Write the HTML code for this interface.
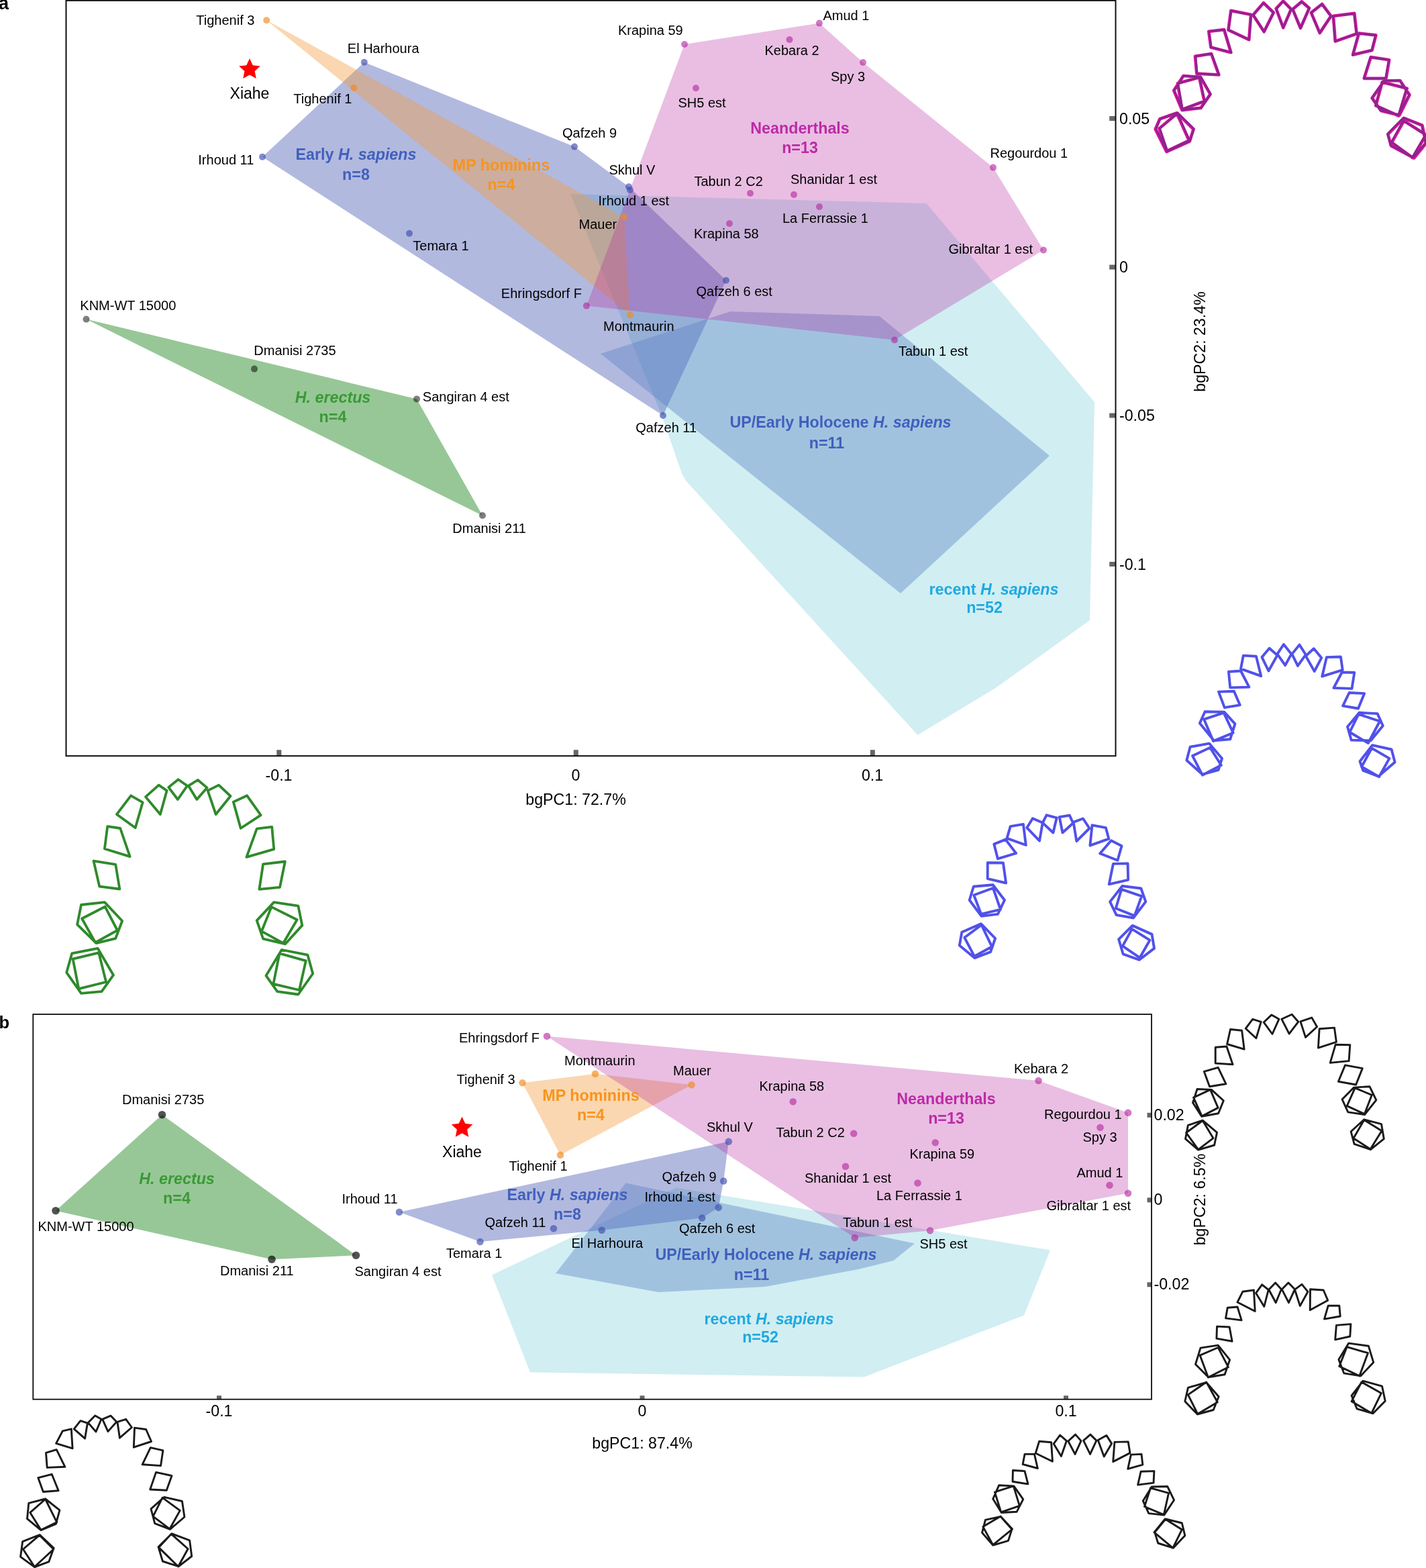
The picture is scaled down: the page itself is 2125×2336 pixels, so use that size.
<!DOCTYPE html>
<html lang="en">
<head>
<meta charset="utf-8">
<title>bgPCA of dental arcade shape</title>
<style>
html,body{margin:0;padding:0;background:#fff;}
body{width:2125px;height:2336px;overflow:hidden;}
svg{display:block;font-family:"Liberation Sans", sans-serif;}
</style>
</head>
<body>
<svg width="2125" height="2336" viewBox="0 0 2125 2336">
<rect width="2125" height="2336" fill="#fff"/>
<g id="panel-a">
<g id="hulls-a">
<polygon points="850,289 1380.5,303 1631,599 1624,924 1485,1024 1367.5,1095 1022.4,716.6 1016.3,706 986.5,620" fill="#59c3d1" fill-opacity="0.28"/>
<polygon points="391,233.8 542.8,92.8 856,218.6 937,278.2 1082,417.7 988,619" fill="#3f4fb0" fill-opacity="0.4"/>
<polygon points="397.2,30.2 930,323.3 939,469.4" fill="#f29a3c" fill-opacity="0.4"/>
<polygon points="895,527 1088.5,464 1310.5,471 1564,679 1342,884" fill="#5a80c3" fill-opacity="0.4"/>
<polygon points="874,455.6 1020,66 1221,34.6 1286,93 1480,249.6 1555,372.6 1333,506.5" fill="#b5279f" fill-opacity="0.3"/>
<polygon points="128.5,475.6 621,594.4 719,768" fill="#2f8f2f" fill-opacity="0.5"/>
</g>
<g id="points-a">
<circle cx="397.2" cy="30.2" r="5" fill="#f08c1e" fill-opacity="0.66"/>
<circle cx="527.2" cy="130.9" r="5" fill="#f08c1e" fill-opacity="0.66"/>
<circle cx="930" cy="323.3" r="5" fill="#f08c1e" fill-opacity="0.66"/>
<circle cx="939" cy="469.4" r="5" fill="#f08c1e" fill-opacity="0.66"/>
<circle cx="542.8" cy="92.8" r="5" fill="#3f4fb0" fill-opacity="0.66"/>
<circle cx="391" cy="233.8" r="5" fill="#3f4fb0" fill-opacity="0.66"/>
<circle cx="610" cy="347.8" r="5" fill="#3f4fb0" fill-opacity="0.66"/>
<circle cx="856" cy="218.6" r="5" fill="#3f4fb0" fill-opacity="0.66"/>
<circle cx="937" cy="278.2" r="5" fill="#3f4fb0" fill-opacity="0.66"/>
<circle cx="939" cy="283" r="5" fill="#3f4fb0" fill-opacity="0.66"/>
<circle cx="1082" cy="417.7" r="5" fill="#3f4fb0" fill-opacity="0.66"/>
<circle cx="988" cy="619" r="5" fill="#3f4fb0" fill-opacity="0.66"/>
<circle cx="1221" cy="34.6" r="5" fill="#b5279f" fill-opacity="0.62"/>
<circle cx="1020" cy="66" r="5" fill="#b5279f" fill-opacity="0.62"/>
<circle cx="1176.5" cy="59" r="5" fill="#b5279f" fill-opacity="0.62"/>
<circle cx="1286" cy="93" r="5" fill="#b5279f" fill-opacity="0.62"/>
<circle cx="1037" cy="131.3" r="5" fill="#b5279f" fill-opacity="0.62"/>
<circle cx="1118" cy="288" r="5" fill="#b5279f" fill-opacity="0.62"/>
<circle cx="1183" cy="290" r="5" fill="#b5279f" fill-opacity="0.62"/>
<circle cx="1221" cy="308" r="5" fill="#b5279f" fill-opacity="0.62"/>
<circle cx="1480" cy="249.6" r="5" fill="#b5279f" fill-opacity="0.62"/>
<circle cx="1087" cy="333" r="5" fill="#b5279f" fill-opacity="0.62"/>
<circle cx="1555" cy="372.6" r="5" fill="#b5279f" fill-opacity="0.62"/>
<circle cx="874" cy="455.6" r="5" fill="#b5279f" fill-opacity="0.62"/>
<circle cx="1333" cy="506.5" r="5" fill="#b5279f" fill-opacity="0.62"/>
<circle cx="128.5" cy="475.6" r="5" fill="#000000" fill-opacity="0.5"/>
<circle cx="379" cy="549.6" r="5" fill="#000000" fill-opacity="0.5"/>
<circle cx="621" cy="594.4" r="5" fill="#000000" fill-opacity="0.5"/>
<circle cx="719" cy="768" r="5" fill="#000000" fill-opacity="0.5"/>
</g>
<polygon points="372,87 376.7,97.13 387.79,98.47 379.61,106.07 381.76,117.03 372,111.6 362.24,117.03 364.39,106.07 356.21,98.47 367.3,97.13" fill="#ff0000"/>
<g id="labels-a">
<text x="292.3" y="37.1" font-size="20" fill="#000">Tighenif 3</text>
<text x="517.8" y="78.5" font-size="20" fill="#000">El Harhoura</text>
<text x="437.3" y="153.6" font-size="20" fill="#000">Tighenif 1</text>
<text x="295.3" y="245.1" font-size="20" fill="#000">Irhoud 11</text>
<text x="615.3" y="373" font-size="20" fill="#000">Temara 1</text>
<text x="119.3" y="461.7" font-size="20" fill="#000">KNM-WT 15000</text>
<text x="378.3" y="528.6" font-size="20" fill="#000">Dmanisi 2735</text>
<text x="629.8" y="597.9" font-size="20" fill="#000">Sangiran 4 est</text>
<text x="674.3" y="793.9" font-size="20" fill="#000">Dmanisi 211</text>
<text x="746.8" y="443.5" font-size="20" fill="#000">Ehringsdorf F</text>
<text x="1226.5" y="30" font-size="20" fill="#000">Amud 1</text>
<text x="921" y="51.5" font-size="20" fill="#000">Krapina 59</text>
<text x="1139.5" y="82" font-size="20" fill="#000">Kebara 2</text>
<text x="1238" y="120.5" font-size="20" fill="#000">Spy 3</text>
<text x="1010.5" y="160" font-size="20" fill="#000">SH5 est</text>
<text x="838" y="204.7" font-size="20" fill="#000">Qafzeh 9</text>
<text x="907.5" y="260" font-size="20" fill="#000">Skhul V</text>
<text x="1034.5" y="276.5" font-size="20" fill="#000">Tabun 2 C2</text>
<text x="1178" y="273.5" font-size="20" fill="#000">Shanidar 1 est</text>
<text x="1475.5" y="235" font-size="20" fill="#000">Regourdou 1</text>
<text x="891.5" y="306" font-size="20" fill="#000">Irhoud 1 est</text>
<text x="862.5" y="341" font-size="20" fill="#000">Mauer</text>
<text x="1166" y="332" font-size="20" fill="#000">La Ferrassie 1</text>
<text x="1034" y="355.4" font-size="20" fill="#000">Krapina 58</text>
<text x="1413.4" y="377.5" font-size="20" fill="#000">Gibraltar 1 est</text>
<text x="1037.5" y="440.5" font-size="20" fill="#000">Qafzeh 6 est</text>
<text x="899" y="492.9" font-size="20" fill="#000">Montmaurin</text>
<text x="1339" y="530" font-size="20" fill="#000">Tabun 1 est</text>
<text x="947.3" y="643.5" font-size="20" fill="#000">Qafzeh 11</text>
<text x="372" y="147.2" font-size="23" text-anchor="middle" fill="#000">Xiahe</text>
<text x="530.5" y="238" font-size="23.3" font-weight="bold" text-anchor="middle" fill="#4160bd" xml:space="preserve">Early <tspan font-style="italic">H. sapiens</tspan></text>
<text x="530.5" y="268" font-size="23.3" font-weight="bold" text-anchor="middle" fill="#4160bd">n=8</text>
<text x="747" y="253.5" font-size="23.3" font-weight="bold" text-anchor="middle" fill="#f7941d" xml:space="preserve">MP hominins</text>
<text x="747" y="282.5" font-size="23.3" font-weight="bold" text-anchor="middle" fill="#f7941d">n=4</text>
<text x="496" y="599.5" font-size="23.3" font-weight="bold" text-anchor="middle" fill="#3a9a35" xml:space="preserve"><tspan font-style="italic">H. erectus</tspan></text>
<text x="496" y="629" font-size="23.3" font-weight="bold" text-anchor="middle" fill="#3a9a35">n=4</text>
<text x="1192" y="199" font-size="23.3" font-weight="bold" text-anchor="middle" fill="#bd2aa6" xml:space="preserve">Neanderthals</text>
<text x="1192" y="228" font-size="23.3" font-weight="bold" text-anchor="middle" fill="#bd2aa6">n=13</text>
<text x="1252.5" y="637" font-size="23.3" font-weight="bold" text-anchor="middle" fill="#3f5fbd" xml:space="preserve">UP/Early Holocene <tspan font-style="italic">H. sapiens</tspan></text>
<text x="1232" y="667.5" font-size="23.3" font-weight="bold" text-anchor="middle" fill="#3f5fbd">n=11</text>
<text x="1481" y="886" font-size="23.3" font-weight="bold" text-anchor="middle" fill="#1fa9e1" xml:space="preserve">recent <tspan font-style="italic">H. sapiens</tspan></text>
<text x="1467" y="913" font-size="23.3" font-weight="bold" text-anchor="middle" fill="#1fa9e1">n=52</text>
</g>
<g id="axes-a">
<rect x="412.3" y="1117.2" width="7" height="9" fill="#666666"/>
<rect x="854.8" y="1117.2" width="7" height="9" fill="#666666"/>
<rect x="1296.8" y="1117.2" width="7" height="9" fill="#666666"/>
<rect x="1653.2" y="173" width="9" height="7" fill="#666666"/>
<rect x="1653.2" y="394.5" width="9" height="7" fill="#666666"/>
<rect x="1653.2" y="615.5" width="9" height="7" fill="#666666"/>
<rect x="1653.2" y="837" width="9" height="7" fill="#666666"/>
<rect x="98.5" y="0.8" width="1564" height="1125.4" fill="none" stroke="#0d0d0d" stroke-width="2"/>
<text x="415.5" y="1163" font-size="23.2" text-anchor="middle" fill="#000">-0.1</text>
<text x="858" y="1163" font-size="23.2" text-anchor="middle" fill="#000">0</text>
<text x="1300" y="1163" font-size="23.2" text-anchor="middle" fill="#000">0.1</text>
<text x="1668" y="184.5" font-size="23.2" fill="#000">0.05</text>
<text x="1668" y="406" font-size="23.2" fill="#000">0</text>
<text x="1668" y="627" font-size="23.2" fill="#000">-0.05</text>
<text x="1668" y="848.5" font-size="23.2" fill="#000">-0.1</text>
<text x="858" y="1198.5" font-size="23.2" text-anchor="middle" fill="#000">bgPC1: 72.7%</text>
<text transform="translate(1796,509) rotate(-90)" font-size="23.2" text-anchor="middle" fill="#000">bgPC2: 23.4%</text>
</g>
<text x="-2" y="13.8" font-size="27" font-weight="bold" fill="#000">a</text>
</g>
<g id="panel-b">
<g id="hulls-b">
<polygon points="733,1899.5 1007.5,1769.5 1565,1862.5 1526,1959.5 1287.5,2051.5 790,2044.5" fill="#59c3d1" fill-opacity="0.28"/>
<polygon points="595,1805.7 1085.75,1700.7 1078.25,1759.45 1070.75,1798.95 1046.25,1814.45 896.75,1832.7 715.5,1849.95" fill="#3f4fb0" fill-opacity="0.4"/>
<polygon points="778.5,1613.2 887,1599.7 1030.5,1616.2 835,1720.7" fill="#f29a3c" fill-opacity="0.4"/>
<polygon points="828,1897 932.5,1762.5 1363,1852.5 1331.5,1878 1279,1891 1140,1917 981,1925" fill="#5a80c3" fill-opacity="0.4"/>
<polygon points="815,1543.7 1547.5,1609.95 1681,1657.7 1681,1777.7 1386,1833.2 1273.75,1843.95" fill="#b5279f" fill-opacity="0.3"/>
<polygon points="83,1803.7 241.5,1660.7 530.5,1870.2 405,1876.2" fill="#2f8f2f" fill-opacity="0.5"/>
</g>
<g id="points-b">
<circle cx="778.5" cy="1613.2" r="5.3" fill="#f08c1e" fill-opacity="0.66"/>
<circle cx="835" cy="1720.7" r="5.3" fill="#f08c1e" fill-opacity="0.66"/>
<circle cx="1030.5" cy="1616.2" r="5.3" fill="#f08c1e" fill-opacity="0.66"/>
<circle cx="887" cy="1599.7" r="5.3" fill="#f08c1e" fill-opacity="0.66"/>
<circle cx="896.75" cy="1832.7" r="5.3" fill="#3f4fb0" fill-opacity="0.66"/>
<circle cx="595" cy="1805.7" r="5.3" fill="#3f4fb0" fill-opacity="0.66"/>
<circle cx="715.5" cy="1849.95" r="5.3" fill="#3f4fb0" fill-opacity="0.66"/>
<circle cx="1078.25" cy="1759.45" r="5.3" fill="#3f4fb0" fill-opacity="0.66"/>
<circle cx="1085.75" cy="1700.7" r="5.3" fill="#3f4fb0" fill-opacity="0.66"/>
<circle cx="1070.75" cy="1798.95" r="5.3" fill="#3f4fb0" fill-opacity="0.66"/>
<circle cx="1046.25" cy="1814.45" r="5.3" fill="#3f4fb0" fill-opacity="0.66"/>
<circle cx="825" cy="1830.2" r="5.3" fill="#3f4fb0" fill-opacity="0.66"/>
<circle cx="1653.5" cy="1765.7" r="5.3" fill="#b5279f" fill-opacity="0.62"/>
<circle cx="1393.75" cy="1702.2" r="5.3" fill="#b5279f" fill-opacity="0.62"/>
<circle cx="1547.5" cy="1609.95" r="5.3" fill="#b5279f" fill-opacity="0.62"/>
<circle cx="1639.5" cy="1679.7" r="5.3" fill="#b5279f" fill-opacity="0.62"/>
<circle cx="1386" cy="1833.2" r="5.3" fill="#b5279f" fill-opacity="0.62"/>
<circle cx="1272.25" cy="1688.7" r="5.3" fill="#b5279f" fill-opacity="0.62"/>
<circle cx="1260" cy="1737.7" r="5.3" fill="#b5279f" fill-opacity="0.62"/>
<circle cx="1367.5" cy="1762.45" r="5.3" fill="#b5279f" fill-opacity="0.62"/>
<circle cx="1681" cy="1657.7" r="5.3" fill="#b5279f" fill-opacity="0.62"/>
<circle cx="1181.75" cy="1641.2" r="5.3" fill="#b5279f" fill-opacity="0.62"/>
<circle cx="1681" cy="1777.7" r="5.3" fill="#b5279f" fill-opacity="0.62"/>
<circle cx="815" cy="1543.7" r="5.3" fill="#b5279f" fill-opacity="0.62"/>
<circle cx="1273.75" cy="1843.95" r="5.3" fill="#b5279f" fill-opacity="0.62"/>
<circle cx="83" cy="1803.7" r="5.8" fill="#000000" fill-opacity="0.68"/>
<circle cx="241.5" cy="1660.7" r="5.8" fill="#000000" fill-opacity="0.68"/>
<circle cx="530.5" cy="1870.2" r="5.8" fill="#000000" fill-opacity="0.68"/>
<circle cx="405" cy="1876.2" r="5.8" fill="#000000" fill-opacity="0.68"/>
</g>
<polygon points="688.5,1663.7 693.2,1673.83 704.29,1675.17 696.11,1682.77 698.26,1693.73 688.5,1688.3 678.74,1693.73 680.89,1682.77 672.71,1675.17 683.8,1673.83" fill="#ff0000"/>
<g id="labels-b">
<text x="684" y="1552.8" font-size="20" fill="#000">Ehringsdorf F</text>
<text x="841" y="1586.8" font-size="20" fill="#000">Montmaurin</text>
<text x="680.5" y="1614.8" font-size="20" fill="#000">Tighenif 3</text>
<text x="182" y="1645" font-size="20" fill="#000">Dmanisi 2735</text>
<text x="758.5" y="1743.8" font-size="20" fill="#000">Tighenif 1</text>
<text x="509.5" y="1792.8" font-size="20" fill="#000">Irhoud 11</text>
<text x="56.5" y="1833.5" font-size="20" fill="#000">KNM-WT 15000</text>
<text x="722.5" y="1827.8" font-size="20" fill="#000">Qafzeh 11</text>
<text x="665" y="1873.8" font-size="20" fill="#000">Temara 1</text>
<text x="328" y="1899.5" font-size="20" fill="#000">Dmanisi 211</text>
<text x="528.5" y="1901.3" font-size="20" fill="#000">Sangiran 4 est</text>
<text x="851.5" y="1858.8" font-size="20" fill="#000">El Harhoura</text>
<text x="1003" y="1601.8" font-size="20" fill="#000">Mauer</text>
<text x="1131.5" y="1625.3" font-size="20" fill="#000">Krapina 58</text>
<text x="1511" y="1598.8" font-size="20" fill="#000">Kebara 2</text>
<text x="1053" y="1686.3" font-size="20" fill="#000">Skhul V</text>
<text x="1156.5" y="1694.3" font-size="20" fill="#000">Tabun 2 C2</text>
<text x="1355.5" y="1726.3" font-size="20" fill="#000">Krapina 59</text>
<text x="986.5" y="1759.8" font-size="20" fill="#000">Qafzeh 9</text>
<text x="1199" y="1761.8" font-size="20" fill="#000">Shanidar 1 est</text>
<text x="1306" y="1788.3" font-size="20" fill="#000">La Ferrassie 1</text>
<text x="960.5" y="1790.3" font-size="20" fill="#000">Irhoud 1 est</text>
<text x="1012" y="1837.3" font-size="20" fill="#000">Qafzeh 6 est</text>
<text x="1256" y="1827.8" font-size="20" fill="#000">Tabun 1 est</text>
<text x="1370.5" y="1859.8" font-size="20" fill="#000">SH5 est</text>
<text x="1556" y="1667.3" font-size="20" fill="#000">Regourdou 1</text>
<text x="1613.5" y="1700.8" font-size="20" fill="#000">Spy 3</text>
<text x="1604.5" y="1754.3" font-size="20" fill="#000">Amud 1</text>
<text x="1559.5" y="1803.3" font-size="20" fill="#000">Gibraltar 1 est</text>
<text x="688.5" y="1724.2" font-size="23" text-anchor="middle" fill="#000">Xiahe</text>
<text x="880.5" y="1639.5" font-size="23.3" font-weight="bold" text-anchor="middle" fill="#f7941d" xml:space="preserve">MP hominins</text>
<text x="880.5" y="1668.5" font-size="23.3" font-weight="bold" text-anchor="middle" fill="#f7941d">n=4</text>
<text x="263.5" y="1763.5" font-size="23.3" font-weight="bold" text-anchor="middle" fill="#3a9a35" xml:space="preserve"><tspan font-style="italic">H. erectus</tspan></text>
<text x="263.5" y="1793" font-size="23.3" font-weight="bold" text-anchor="middle" fill="#3a9a35">n=4</text>
<text x="845.5" y="1788" font-size="23.3" font-weight="bold" text-anchor="middle" fill="#4160bd" xml:space="preserve">Early <tspan font-style="italic">H. sapiens</tspan></text>
<text x="845.5" y="1817" font-size="23.3" font-weight="bold" text-anchor="middle" fill="#4160bd">n=8</text>
<text x="1410" y="1645" font-size="23.3" font-weight="bold" text-anchor="middle" fill="#bd2aa6" xml:space="preserve">Neanderthals</text>
<text x="1410" y="1674" font-size="23.3" font-weight="bold" text-anchor="middle" fill="#bd2aa6">n=13</text>
<text x="1141.5" y="1876.5" font-size="23.3" font-weight="bold" text-anchor="middle" fill="#3f5fbd" xml:space="preserve">UP/Early Holocene <tspan font-style="italic">H. sapiens</tspan></text>
<text x="1120" y="1906.5" font-size="23.3" font-weight="bold" text-anchor="middle" fill="#3f5fbd">n=11</text>
<text x="1146" y="1972.5" font-size="23.3" font-weight="bold" text-anchor="middle" fill="#1fa9e1" xml:space="preserve">recent <tspan font-style="italic">H. sapiens</tspan></text>
<text x="1133" y="1999.5" font-size="23.3" font-weight="bold" text-anchor="middle" fill="#1fa9e1">n=52</text>
</g>
<g id="axes-b">
<rect x="323" y="2079.2" width="7" height="6" fill="#666666"/>
<rect x="953.5" y="2079.2" width="7" height="6" fill="#666666"/>
<rect x="1585" y="2079.2" width="7" height="6" fill="#666666"/>
<rect x="1709.5" y="1657.8" width="6.5" height="7" fill="#666666"/>
<rect x="1709.5" y="1784.3" width="6.5" height="7" fill="#666666"/>
<rect x="1709.5" y="1910.3" width="6.5" height="7" fill="#666666"/>
<rect x="49.3" y="1511.1" width="1666.7" height="573.6" fill="none" stroke="#0d0d0d" stroke-width="1.8"/>
<text x="326.5" y="2110" font-size="23.2" text-anchor="middle" fill="#000">-0.1</text>
<text x="957" y="2110" font-size="23.2" text-anchor="middle" fill="#000">0</text>
<text x="1588.5" y="2110" font-size="23.2" text-anchor="middle" fill="#000">0.1</text>
<text x="1719.5" y="1668.5" font-size="23.2" fill="#000">0.02</text>
<text x="1719.5" y="1795" font-size="23.2" fill="#000">0</text>
<text x="1719.5" y="1921" font-size="23.2" fill="#000">-0.02</text>
<text x="957" y="2158" font-size="23.2" text-anchor="middle" fill="#000">bgPC1: 87.4%</text>
<text transform="translate(1796,1787) rotate(-90)" font-size="23.2" text-anchor="middle" fill="#000">bgPC2: 6.5%</text>
</g>
<text x="-1.5" y="1532.2" font-size="25.5" font-weight="bold" fill="#000">b</text>
</g>
<g id="arcades">
<path id="arc-nea-pink" d="M1912.2 1.5L1901.6 12.8L1912.2 41.3L1924.0 13.7Z M1939.8 2.4L1926.3 13.7L1938.0 41.9L1951.0 12.1Z M1882.9 4.2L1867.3 22.2L1883.6 47.3L1897.8 18.8Z M1970.1 6.0L1953.9 18.8L1966.7 49.1L1983.5 23.9Z M1834.3 15.9L1864.1 21.7L1861.2 59.2L1830.4 44.6Z M1986.9 23.9L2018.3 19.9L2021.7 50.2L1989.8 61.5Z M1801.2 46.8L1824.1 44.2L1834.3 78.2L1804.4 70.4Z M2025.0 49.5L2050.4 52.4L2044.6 74.9L2016.1 81.6Z M1781.0 83.9L1805.0 80.0L1816.3 111.5L1783.3 109.7Z M2042.8 85.1L2070.2 89.3L2065.5 116.8L2032.8 116.8Z M1754.8 124.3L1787.1 115.3L1794.6 150.8L1761.5 163.1Z M1763.4 113.0L1789.0 114.9L1803.6 140.4L1789.4 160.8L1761.5 164.1L1749.2 134.8Z M2059.8 122.4L2096.7 131.8L2084.4 172.6L2050.3 157.4Z M2062.7 120.5L2086.3 120.0L2100.5 141.4L2085.4 171.6L2057.9 165.0L2044.7 146.1Z M1727.4 191.5L1753.9 169.3L1771.9 209.5L1738.8 225.1Z M1728.3 177.3L1753.9 168.3L1778.5 192.5L1772.8 210.5L1738.3 226.0L1721.7 192.5Z M2092.0 180.1L2125.1 200.9L2105.2 235.1L2074.0 212.3Z M2092.0 175.9L2119.4 186.8L2125.1 213.3L2107.1 235.5L2073.0 217.1L2068.3 200.0Z" fill="none" stroke="#e3169a" stroke-width="4.7" stroke-linejoin="round"/>
<path id="arc-nea" d="M1912.2 1.8L1901.7 13.0L1912.2 41.4L1924.0 13.9Z M1939.7 2.7L1926.3 13.9L1937.9 42.0L1950.9 12.3Z M1883.1 4.5L1867.5 22.4L1883.8 47.4L1897.9 19.0Z M1969.9 6.3L1953.8 19.0L1966.5 49.2L1983.3 24.1Z M1834.6 16.1L1864.3 21.9L1861.4 59.2L1830.8 44.7Z M1986.6 24.1L2017.9 20.1L2021.3 50.3L1989.5 61.5Z M1801.7 46.9L1824.5 44.3L1834.6 78.2L1804.9 70.4Z M2024.6 49.6L2049.9 52.5L2044.1 74.9L2015.7 81.6Z M1781.6 83.8L1805.5 80.0L1816.7 111.3L1783.9 109.5Z M2042.3 85.0L2069.6 89.2L2064.9 116.6L2032.4 116.6Z M1755.5 124.1L1787.6 115.1L1795.1 150.5L1762.1 162.7Z M1764.0 112.8L1789.5 114.7L1804.1 140.1L1789.9 160.4L1762.1 163.7L1749.9 134.5Z M2059.3 122.2L2096.0 131.6L2083.8 172.2L2049.8 157.1Z M2062.1 120.3L2085.6 119.8L2099.8 141.1L2084.7 171.2L2057.4 164.6L2044.2 145.8Z M1728.2 191.0L1754.6 168.9L1772.5 208.9L1739.5 224.5Z M1729.1 176.9L1754.6 167.9L1779.1 192.0L1773.4 209.9L1739.0 225.4L1722.5 192.0Z M2091.3 179.7L2124.3 200.4L2104.5 234.4L2073.4 211.7Z M2091.3 175.5L2118.6 186.3L2124.3 212.7L2106.4 234.8L2072.4 216.5L2067.7 199.5Z" fill="none" stroke="#8c2490" stroke-width="2.9" stroke-linejoin="round"/>
<path id="arc-rec-pc2" d="M1912.9 960.0L1903.4 974.4L1915.2 991.1L1924.4 974.4Z M1936.4 960.6L1925.3 974.4L1933.9 991.9L1945.8 975.3Z M1891.6 965.8L1880.5 979.1L1890.4 999.5L1903.4 976.3Z M1957.8 966.3L1945.8 977.2L1958.7 1000.1L1969.2 980.1Z M1852.8 976.6L1871.9 977.8L1879.2 1007.2L1849.0 996.3Z M1976.9 979.1L1997.9 978.5L2000.7 998.2L1970.2 1007.7Z M1830.9 1000.7L1849.0 999.5L1861.4 1023.6L1833.2 1024.4Z M1999.8 1001.5L2018.3 1002.0L2014.5 1025.9L1987.4 1024.9Z M1816.0 1030.6L1838.9 1029.7L1847.7 1050.3L1824.8 1054.1Z M2010.6 1032.0L2033.2 1033.1L2024.0 1055.5L2001.1 1051.6Z M1794.2 1071.7L1823.6 1061.8L1837.6 1091.7L1808.0 1104.1Z M1795.6 1060.2L1824.2 1060.6L1840.4 1078.4L1833.2 1101.3L1808.9 1103.2L1787.9 1077.4Z M2024.6 1064.0L2056.1 1074.5L2038.9 1107.0L2011.2 1090.8Z M2025.5 1061.8L2052.6 1063.1L2060.8 1081.2L2042.7 1103.2L2013.7 1102.6L2008.0 1082.7Z M1777.1 1126.1L1803.2 1113.7L1819.8 1140.0L1791.8 1154.7Z M1773.6 1112.7L1801.9 1107.6L1821.0 1129.9L1815.6 1147.1L1791.8 1153.7L1768.3 1132.7Z M2044.2 1114.6L2070.4 1129.9L2055.1 1157.2L2029.0 1142.3Z M2045.0 1110.2L2073.6 1116.5L2078.6 1135.6L2054.2 1156.6L2031.3 1148.0L2026.5 1134.3Z" fill="none" stroke="#5151ea" stroke-width="3.9" stroke-linejoin="round"/>
<path id="arc-ere" d="M265.6 1161.3L251.2 1172.9L264.9 1191.0L279.1 1170.7Z M294.8 1162.0L280.9 1170.7L293.3 1191.0L308.6 1173.6Z M236.6 1169.6L217.0 1187.1L238.8 1213.2L248.6 1177.9Z M326.0 1169.6L309.6 1177.9L321.6 1213.2L343.5 1186.0Z M195.1 1185.3L212.6 1195.4L201.7 1233.3L174.0 1213.2Z M368.1 1185.3L388.6 1214.3L358.7 1234.0L347.8 1194.7Z M160.2 1231.1L179.2 1234.0L193.6 1276.1L155.9 1264.5Z M382.7 1234.6L405.2 1231.8L408.2 1265.2L367.4 1276.9Z M139.5 1282.6L172.2 1287.8L178.3 1324.5L148.2 1320.6Z M392.1 1287.4L424.8 1283.5L417.0 1321.9L386.4 1324.9Z M122.1 1368.5L156.5 1350.7L174.9 1386.0L142.1 1404.1Z M121.0 1348.0L155.9 1344.1L182.1 1372.0L172.2 1398.2L143.5 1405.2L115.1 1377.3Z M404.5 1351.1L442.7 1370.3L422.0 1405.2L389.9 1387.3Z M408.2 1344.1L444.4 1349.6L450.3 1378.6L425.2 1406.3L392.1 1398.6L382.7 1371.4Z M108.6 1428.7L147.2 1419.4L158.1 1463.0L117.3 1473.2Z M107.2 1420.4L145.6 1412.8L169.0 1452.7L151.5 1477.2L121.0 1479.8L99.2 1448.8Z M416.5 1420.4L455.8 1431.4L446.0 1475.0L407.4 1465.8Z M419.8 1415.0L458.4 1422.6L466.2 1450.5L444.4 1481.5L413.2 1477.2L396.5 1453.6Z" fill="none" stroke="#2f8a2c" stroke-width="3.8" stroke-linejoin="round"/>
<path id="arc-rec-pc1" d="M1559.5 1214.3L1574.7 1218.3L1569.4 1240.5L1553.7 1225.8Z M1578.7 1217.1L1593.9 1214.8L1599.1 1226.2L1583.4 1240.5Z M1538.9 1219.2L1553.7 1225.8L1549.0 1252.7L1530.2 1233.2Z M1613.9 1219.5L1623.5 1234.0L1604.3 1253.2L1599.6 1224.8Z M1505.7 1231.1L1524.9 1227.9L1528.8 1259.0L1500.5 1248.9Z M1627.5 1229.3L1647.9 1233.2L1652.3 1249.7L1624.4 1259.7Z M1481.3 1257.6L1498.4 1250.6L1514.1 1271.2L1486.9 1279.4Z M1655.8 1252.3L1671.5 1260.2L1665.4 1281.7L1639.2 1271.5Z M1471.7 1285.2L1494.9 1285.5L1499.1 1315.5L1471.7 1309.1Z M1658.9 1286.9L1680.6 1286.4L1681.1 1310.8L1652.7 1317.3Z M1451.3 1333.5L1479.9 1323.0L1490.9 1354.9L1462.1 1361.9Z M1450.8 1320.7L1479.6 1318.3L1497.0 1341.0L1486.9 1361.9L1462.5 1364.9L1444.7 1341.0Z M1671.2 1324.8L1701.2 1335.2L1690.7 1364.4L1662.8 1353.2Z M1672.4 1320.0L1700.3 1323.5L1707.3 1343.4L1688.9 1367.5L1663.6 1363.1L1654.1 1343.4Z M1437.3 1396.8L1462.5 1378.0L1478.2 1410.3L1452.0 1424.7Z M1433.3 1388.8L1461.8 1376.2L1483.1 1398.0L1476.1 1418.1L1452.5 1427.2L1429.8 1408.5Z M1686.9 1384.1L1713.4 1400.7L1698.5 1426.8L1672.9 1409.4Z M1687.6 1378.9L1716.5 1391.9L1720.0 1412.9L1697.7 1430.0L1673.6 1421.3L1667.1 1399.3Z" fill="none" stroke="#5151ea" stroke-width="3.9" stroke-linejoin="round"/>
<path id="arc-b1" d="M1894.9 1511.9L1905.9 1518.3L1896.0 1540.5L1883.2 1523.0Z M1925.1 1511.3L1934.7 1522.3L1921.1 1540.1L1909.9 1518.3Z M1866.7 1518.3L1879.2 1522.3L1871.9 1546.8L1856.2 1532.3Z M1954.8 1516.1L1962.6 1529.7L1945.5 1545.4L1937.9 1521.8Z M1833.5 1533.5L1850.6 1535.2L1854.1 1563.2L1828.6 1555.5Z M1966.1 1532.8L1988.5 1531.1L1991.4 1552.3L1964.4 1561.1Z M1811.2 1560.2L1827.9 1559.0L1837.0 1585.8L1811.2 1584.1Z M1990.2 1556.2L2011.8 1556.7L2010.1 1580.6L1982.2 1583.4Z M1794.3 1596.3L1815.2 1590.4L1826.9 1614.8L1802.5 1618.7Z M2004.5 1586.9L2030.3 1591.6L2020.6 1616.0L1994.4 1611.3Z M1778.5 1635.1L1803.6 1623.4L1815.1 1650.4L1791.1 1662.9Z M1784.0 1622.5L1805.3 1623.4L1823.3 1639.7L1815.6 1658.8L1790.6 1663.2L1777.5 1642.7Z M2019.2 1620.9L2044.3 1631.3L2033.4 1659.6L2007.2 1647.6Z M2017.6 1620.1L2041.0 1618.7L2050.8 1638.9L2033.6 1660.5L2008.8 1656.9L2000.1 1637.8Z M1767.6 1687.5L1792.2 1669.5L1808.0 1695.7L1785.6 1712.6Z M1770.4 1676.3L1792.2 1669.2L1813.5 1687.2L1809.6 1706.0L1785.6 1713.1L1766.5 1696.7Z M2032.8 1668.4L2059.0 1684.7L2042.1 1712.0L2017.0 1695.7Z M2032.8 1667.8L2058.5 1674.6L2062.3 1696.7L2042.4 1712.6L2018.1 1704.4L2013.2 1685.8Z" fill="none" stroke="#1a1a1a" stroke-width="2.9" stroke-linejoin="round"/>
<path id="arc-b2" d="M1900.7 1911.1L1909.4 1920.8L1901.2 1940.7L1890.8 1921.2Z M1919.9 1911.1L1929.5 1920.8L1920.4 1940.7L1910.3 1920.8Z M1880.6 1913.8L1890.2 1921.5L1883.8 1946.5L1871.6 1926.4Z M1940.0 1913.3L1949.0 1924.3L1937.3 1945.6L1929.5 1921.2Z M1851.8 1924.3L1868.4 1922.0L1870.2 1953.5L1844.0 1940.0Z M1952.5 1920.8L1972.2 1922.0L1978.7 1937.2L1952.2 1951.7Z M1829.2 1948.2L1844.0 1947.0L1850.1 1966.9L1826.5 1963.9Z M1979.2 1945.3L1995.8 1945.3L1997.2 1961.0L1973.5 1965.1Z M1813.5 1976.1L1832.1 1977.0L1836.1 1998.3L1812.9 1994.1Z M1991.4 1974.4L2012.9 1972.6L2011.8 1991.0L1989.7 1995.9Z M1788.2 2019.2L1815.2 2007.5L1830.4 2036.7L1800.4 2052.0Z M1789.0 2008.1L1815.2 2004.1L1832.6 2025.9L1825.1 2047.7L1800.7 2051.7L1781.5 2032.5Z M2007.1 2006.7L2038.5 2015.7L2025.8 2049.9L1995.8 2035.5Z M2009.8 2001.1L2039.4 2005.3L2046.7 2029.7L2027.6 2049.9L2002.8 2045.9L1994.9 2025.5Z M1770.4 2077.9L1797.7 2059.0L1814.3 2089.0L1784.7 2106.5Z M1770.4 2067.4L1797.7 2059.4L1816.1 2080.8L1808.2 2100.5L1784.3 2107.0L1765.8 2087.8Z M2028.9 2059.0L2058.3 2075.6L2043.8 2105.3L2014.1 2087.8Z M2031.0 2057.3L2059.5 2065.1L2064.2 2087.3L2046.0 2105.8L2022.0 2098.8L2014.1 2079.1Z" fill="none" stroke="#1a1a1a" stroke-width="2.9" stroke-linejoin="round"/>
<path id="arc-b3" d="M141.7 2109.1L151.0 2114.3L143.0 2133.0L131.3 2119.6Z M164.9 2109.1L173.7 2118.3L160.9 2132.6L152.7 2114.3Z M119.9 2116.6L130.4 2120.1L126.6 2143.1L110.3 2128.8Z M187.6 2114.3L196.4 2126.5L178.4 2142.2L174.9 2118.3Z M93.4 2131.8L106.3 2128.8L108.1 2157.9L83.6 2150.4Z M200.5 2127.1L217.6 2129.5L225.5 2147.5L199.3 2156.2Z M68.5 2164.4L84.2 2159.7L96.9 2185.3L70.2 2186.4Z M224.3 2156.7L242.9 2160.9L239.5 2183.6L212.1 2181.8Z M56.8 2201.6L77.2 2196.3L87.1 2220.8L64.4 2222.5Z M232.5 2193.4L256.0 2198.6L248.2 2220.2L223.7 2219.0Z M44.9 2253.4L67.6 2233.5L84.7 2267.9L61.0 2279.2Z M42.8 2239.4L67.6 2233.0L88.9 2249.9L83.3 2270.5L61.0 2279.6L40.5 2262.6Z M242.1 2231.2L268.2 2250.4L252.9 2277.8L228.1 2259.1Z M244.7 2230.4L271.4 2236.5L274.9 2260.0L253.4 2278.3L230.7 2269.6L225.0 2247.8Z M34.4 2308.0L58.9 2287.1L79.8 2308.0L51.5 2334.2Z M33.6 2296.7L59.2 2286.5L80.1 2306.3L72.8 2326.7L51.5 2334.7L30.6 2319.3Z M255.2 2285.3L280.1 2307.5L265.6 2333.7L236.5 2305.4Z M256.0 2284.8L282.6 2294.9L285.7 2318.5L266.2 2333.7L242.4 2326.0L236.0 2304.5Z" fill="none" stroke="#1a1a1a" stroke-width="2.9" stroke-linejoin="round"/>
<path id="arc-b4" d="M1602.6 2137.1L1611.0 2146.6L1602.0 2166.4L1591.8 2147.0Z M1624.9 2137.1L1633.9 2146.1L1624.5 2166.4L1614.6 2146.1Z M1579.6 2138.0L1589.4 2146.6L1581.4 2169.5L1570.2 2150.9Z M1648.8 2138.4L1656.6 2150.6L1645.2 2170.0L1636.2 2145.6Z M1548.6 2147.3L1566.6 2148.8L1568.4 2177.2L1543.2 2165.0Z M1660.9 2148.4L1681.2 2147.9L1683.9 2164.6L1658.7 2177.6Z M1527.0 2166.4L1541.4 2166.4L1546.3 2187.5L1524.1 2181.5Z M1685.4 2167.1L1701.0 2166.4L1702.8 2182.1L1680.7 2188.4Z M1509.4 2190.5L1527.0 2191.6L1531.9 2210.9L1509.0 2207.3Z M1700.1 2192.3L1719.9 2191.6L1719.0 2209.1L1695.6 2212.1Z M1482.4 2222.9L1510.3 2213.9L1519.3 2243.3L1491.7 2252.8Z M1488.7 2212.7L1510.8 2213.9L1524.7 2233.7L1515.1 2252.3L1492.3 2253.5L1479.7 2233.0Z M1714.5 2216.8L1741.5 2224.4L1734.3 2256.7L1705.5 2244.5Z M1716.3 2215.0L1739.7 2214.5L1749.6 2234.8L1734.7 2257.1L1711.8 2254.6L1703.3 2236.1Z M1464.8 2274.4L1491.0 2258.9L1508.5 2278.0L1479.7 2301.7Z M1468.4 2264.3L1491.0 2259.4L1507.9 2278.3L1502.5 2295.4L1479.7 2302.1L1463.5 2283.4Z M1736.1 2263.0L1761.3 2278.7L1747.8 2306.2L1719.9 2282.8Z M1737.0 2263.0L1761.3 2269.0L1765.8 2287.7L1748.3 2306.2L1725.7 2299.0L1720.8 2282.8Z" fill="none" stroke="#1a1a1a" stroke-width="2.9" stroke-linejoin="round"/>
</g>
</svg>
</body>
</html>
